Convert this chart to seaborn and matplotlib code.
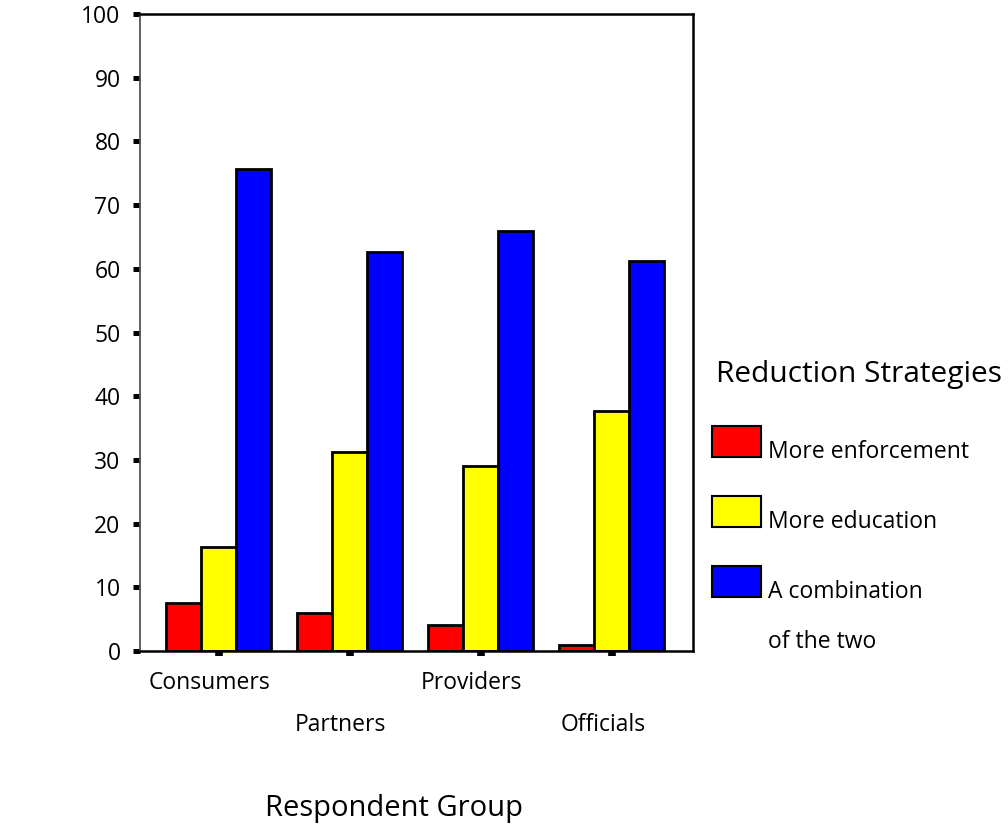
import matplotlib
matplotlib.use("Agg")
import matplotlib.pyplot as plt
from matplotlib.patches import Rectangle
from matplotlib.transforms import ScaledTranslation
import seaborn as sns
import pandas as pd

groups = ["Consumers", "Partners", "Providers", "Officials"]
strategies = ["More enforcement", "More education", "A combination of the two"]
enforcement = [7.6, 5.9, 4.1, 1.0]
education = [16.3, 31.2, 29.1, 37.7]
combination = [75.6, 62.7, 65.9, 61.3]
colors = ["#ff0000", "#ffff00", "#0000ff"]
y_ticks = [0, 10, 20, 30, 40, 50, 60, 70, 80, 90, 100]

rows = []
for name, vals in zip(strategies, [enforcement, education, combination]):
    for g, v in zip(groups, vals):
        rows.append({"Respondent Group": g, "Strategy": name, "Percent": v})
df = pd.DataFrame(rows)

sns.set_theme(style="white")
plt.rcParams["font.family"] = ["Open Sans", "DejaVu Sans"]
plt.rcParams["text.color"] = "black"
plt.rcParams["xtick.color"] = "black"
plt.rcParams["ytick.color"] = "black"
plt.rcParams["axes.labelcolor"] = "black"

W, H = 1008, 826
fig = plt.figure(figsize=(W / 100, H / 100), dpi=100)
ax = fig.add_axes([140 / W, (H - 651) / H, 553 / W, 637 / H])

sns.barplot(data=df, x="Respondent Group", y="Percent", hue="Strategy",
            order=groups, hue_order=strategies, palette=colors,
            edgecolor="black", linewidth=2.0, width=0.8, saturation=1,
            legend=False, ax=ax)

ax.set_ylim(0, 100)
ax.set_xlim(-0.6, 3.62)
ax.set_yticks(y_ticks)
ax.set_ylabel("")

for side in ["top", "right", "bottom"]:
    ax.spines[side].set_color("black")
    ax.spines[side].set_linewidth(1.8)
ax.spines["left"].set_color("#555555")
ax.spines["left"].set_linewidth(1.3)

ax.tick_params(axis="y", direction="out", length=5, width=3.6, color="black",
               labelsize=16.5, pad=9, left=True)
ax.tick_params(axis="x", direction="out", length=3.6, width=5.5, color="black",
               labelsize=16.5, pad=11, bottom=True)

# stagger the group names on two rows, nudged slightly left of their ticks
shift = ScaledTranslation(-9 / 100, 0, fig.dpi_scale_trans)
for i, tick in enumerate(ax.xaxis.get_major_ticks()):
    if i % 2 == 1:
        tick.set_pad(41)
    tick.label1.set_transform(tick.label1.get_transform() + shift)

ax.set_xlabel("Respondent Group", fontsize=21, labelpad=41)
ax.xaxis.label.set_x((394 - 140) / 553)


def fx(px):
    return px / W


def fy(py):
    return (H - py) / H


# legend
fig.text(fx(716), fy(382), "Reduction Strategies", fontsize=21.5,
         ha="left", va="baseline")
patch_tops = [426, 496, 566]
legend_labels = ["More enforcement", "More education", "A combination"]
for top, col, lab in zip(patch_tops, colors, legend_labels):
    fig.add_artist(Rectangle((fx(712), fy(top + 31)), 49 / W, 31 / H,
                             transform=fig.transFigure, facecolor=col,
                             edgecolor="black", linewidth=1.5))
    fig.text(fx(768), fy(top + 32), lab, fontsize=16.5, ha="left", va="baseline")
fig.text(fx(768), fy(648), "of the two", fontsize=16.5, ha="left", va="baseline")

fig.savefig("out.png", dpi=100, facecolor="white")
